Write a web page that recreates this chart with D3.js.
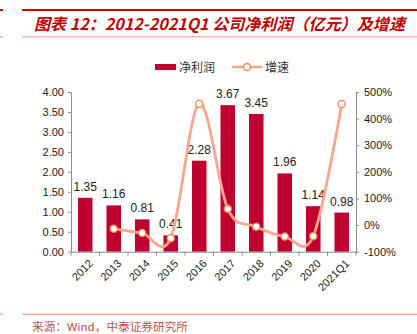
<!DOCTYPE html>
<html>
<head>
<meta charset="utf-8">
<script src="https://cdn.jsdelivr.net/npm/d3@7"></script>
<style>
  html, body { margin: 0; padding: 0; background: #fff; }
  svg { display: block; }
</style>
</head>
<body>
<svg id="chart" width="417" height="334"></svg>
<script>
// Net profit (亿元) and year-on-year growth, 2012 – 2021Q1
const categories = ["2012", "2013", "2014", "2015", "2016", "2017", "2018", "2019", "2020", "2021Q1"];
const netProfit = [1.35, 1.16, 0.81, 0.41, 2.28, 3.67, 3.45, 1.96, 1.14, 0.98];
const growthPct = [null, -14, -30, -49, 456, 61, -6, -43, -42, 455];
const leftTicks = [0, 0.5, 1, 1.5, 2, 2.5, 3, 3.5, 4];
const rightTicks = [-100, 0, 100, 200, 300, 400, 500];

const svg = d3.select("#chart");
const red = "#C0002F";
const lineColor = "#F9A68C";
const markerStroke = "#F0874A";
const axisColor = "#8c8c8c";
const labelFont = "'Liberation Sans', Arial, sans-serif";
const cjkFont = "'Noto Sans CJK SC', sans-serif";

const plot = { left: 71, right: 356, top: 92, bottom: 251.7 };

const x = d3.scaleBand().domain(categories).range([plot.left, plot.right]).paddingInner(0.49).paddingOuter(0.245);
const yL = d3.scaleLinear().domain([0, 4]).range([plot.bottom, plot.top]);
const yR = d3.scaleLinear().domain([-100, 500]).range([plot.bottom, plot.top]);
const step = (plot.right - plot.left) / categories.length;

// Header rules and title
svg.append("rect").attr("x", 0).attr("y", 9).attr("width", 3).attr("height", 2).attr("fill", "#D40000");
svg.append("rect").attr("x", 22).attr("y", 9).attr("width", 395).attr("height", 2).attr("fill", "#D40000");
svg.append("rect").attr("x", 0).attr("y", 36).attr("width", 3).attr("height", 1.5).attr("fill", "#F2B8B8");
svg.append("rect").attr("x", 22).attr("y", 36).attr("width", 395).attr("height", 1.5).attr("fill", "#F2B8B8");
svg.append("text")
  .attr("x", 34).attr("y", 30)
  .attr("font-family", cjkFont).attr("font-size", 16).attr("font-style", "italic").attr("font-weight", "bold")
  .attr("fill", "#C00000")
  .attr("textLength", 371).attr("lengthAdjust", "spacingAndGlyphs")
  .text("图表 12：2012-2021Q1 公司净利润（亿元）及增速");

// Footer rule and source
svg.append("rect").attr("x", 0).attr("y", 313.5).attr("width", 3).attr("height", 1.5).attr("fill", "#F2B0B0");
svg.append("rect").attr("x", 22).attr("y", 313.5).attr("width", 395).attr("height", 1.5).attr("fill", "#F2B0B0");
svg.append("text")
  .attr("x", 32).attr("y", 331)
  .attr("font-family", cjkFont).attr("font-size", 11)
  .attr("fill", "#C0504D")
  .attr("textLength", 156).attr("lengthAdjust", "spacingAndGlyphs")
  .text("来源：Wind，中泰证券研究所");

// Legend
const lg = svg.append("g");
lg.append("rect").attr("x", 155).attr("y", 64).attr("width", 21).attr("height", 6).attr("fill", red);
lg.append("text").attr("x", 179).attr("y", 72).attr("font-family", cjkFont).attr("font-size", 12).attr("fill", "#333")
  .text("净利润");
lg.append("line").attr("x1", 232).attr("x2", 262).attr("y1", 67).attr("y2", 67)
  .attr("stroke", lineColor).attr("stroke-width", 2.5);
lg.append("circle").attr("cx", 247).attr("cy", 67).attr("r", 3.5)
  .attr("fill", "#fff").attr("stroke", markerStroke).attr("stroke-width", 1.3);
lg.append("text").attr("x", 265).attr("y", 72).attr("font-family", cjkFont).attr("font-size", 12).attr("fill", "#333")
  .text("增速");

// Bars
svg.append("g").selectAll("rect").data(categories).join("rect")
  .attr("x", d => x(d))
  .attr("width", x.bandwidth())
  .attr("y", (d, i) => yL(netProfit[i]))
  .attr("height", (d, i) => yL(0) - yL(netProfit[i]))
  .attr("fill", red);

// Bar value labels
svg.append("g").selectAll("text").data(categories).join("text")
  .attr("x", d => x(d) + x.bandwidth() / 2)
  .attr("y", (d, i) => yL(netProfit[i]) - 7)
  .attr("text-anchor", "middle")
  .attr("font-family", labelFont).attr("font-size", 12).attr("fill", "#222")
  .text((d, i) => netProfit[i].toFixed(2));

// Left axis
const axL = svg.append("g").attr("transform", `translate(${plot.left},0)`)
  .call(d3.axisLeft(yL).tickValues(leftTicks).tickFormat(d3.format(".2f")).tickSizeOuter(0).tickSizeInner(3).tickPadding(4));
// Right axis
const axR = svg.append("g").attr("transform", `translate(${plot.right},0)`)
  .call(d3.axisRight(yR).tickValues(rightTicks).tickFormat(d => d + "%").tickSizeOuter(0).tickSizeInner(3).tickPadding(5));
// Bottom axis (ticks at category boundaries)
const axB = svg.append("g").attr("transform", `translate(0,${plot.bottom})`)
  .call(d3.axisBottom(x).tickSize(0).tickPadding(0));
axB.selectAll(".tick text")
  .attr("text-anchor", "end")
  .attr("transform", "translate(3,7) rotate(-45)")
  .attr("dy", "0.7em");
axB.append("g").selectAll("line").data(d3.range(categories.length + 1)).join("line")
  .attr("x1", i => plot.left + i * step).attr("x2", i => plot.left + i * step)
  .attr("y1", 0).attr("y2", 4)
  .attr("stroke", axisColor);

[axL, axR, axB].forEach(a => {
  a.select(".domain").attr("stroke", axisColor);
  a.selectAll(".tick line").attr("stroke", axisColor);
  a.selectAll(".tick text").attr("font-family", labelFont).attr("font-size", 11).attr("fill", "#222");
});

// Growth line
const pts = categories.map((c, i) => ({ c, v: growthPct[i] })).filter(d => d.v !== null);
const cx = d => x(d.c) + x.bandwidth() / 2;
svg.append("path").datum(pts)
  .attr("d", d3.line().x(cx).y(d => yR(d.v)).curve(d3.curveCardinal.tension(0)))
  .attr("fill", "none").attr("stroke", lineColor).attr("stroke-width", 2.8);
svg.append("g").selectAll("circle").data(pts).join("circle")
  .attr("cx", cx).attr("cy", d => yR(d.v)).attr("r", 3.6)
  .attr("fill", "#fff").attr("stroke", markerStroke).attr("stroke-width", 1.3);
</script>
</body>
</html>
